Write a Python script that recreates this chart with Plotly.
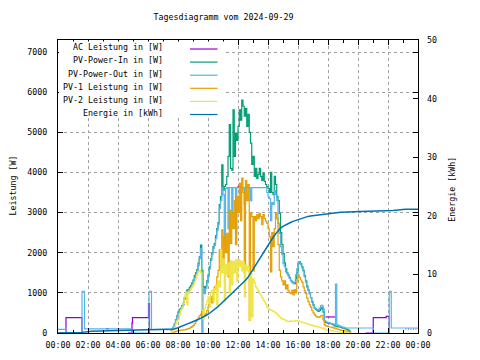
import pandas as pd
import plotly.graph_objects as go

DATE = "2024-09-29"
TITLE = "Tagesdiagramm vom 2024-09-29"
NAMES = ["AC Leistung in [W]", "PV-Power-In in [W]", "PV-Power-Out in [W]",
         "PV-1 Leistung in [W]", "PV-2 Leistung in [W]", "Energie in [kWh]"]
COLORS = ["#9400d3", "#009e73", "#56b4e9", "#e69f00", "#f0e442", "#0072b2"]

# 5-minute grid 07:30 .. 19:30 (145 samples) for the daytime series
DAY_START, DAY_END, DAY_STEP = "07:30", "19:30", "5min"

PV_IN = [
    70, 100, 150, 230, 330, 430, 520, 590, 620, 680, 740, 880,
    1010, 1070, 1080, 1140, 1180, 1250, 1320, 1430, 1500, 1580, 1740, 1900,
    2190, 1560, 1150, 1030, 1160, 1300, 1450, 1650, 1850, 2000, 2150, 2230,
    2420, 2600, 2750, 3200, 3400, 4190, 3560, 3650, 3700, 3900, 4400, 5190,
    4100, 4060, 5560, 4400, 4980, 4800, 5150, 5560, 5300, 5800, 5650, 5400,
    5600, 5150, 5450, 5000, 4730, 4200, 4400, 3900, 4100, 3850, 3950, 4100,
    3900, 3800, 3980, 3780, 3700, 3650, 3600, 3500, 4000, 3500, 3450, 3900,
    3700, 3400, 3300, 2980, 2500, 2200, 1980, 1750, 1600, 1500, 1440, 1380,
    1310, 1270, 1250, 1230, 1350, 1500, 1730, 1770, 1720, 1650, 1560, 1430,
    1300, 1150, 1070, 980, 880, 780, 700, 620, 590, 560, 540, 560,
    600, 640, 520, 300, 260, 250, 240, 230, 230, 220, 200, 180,
    170, 160, 150, 150, 140, 130, 120, 110, 100, 90, 70, 50,
    0]

PV_OUT_DAY = [
    85, 90, 140, 210, 310, 410, 500, 570, 600, 650, 700, 840,
    960, 1030, 1040, 1100, 1140, 1200, 1270, 1380, 1450, 1530, 1680, 1850,
    2100, 0, 1100, 980, 1110, 1250, 1400, 1600, 1800, 1950, 2100, 2180,
    2350, 2550, 2700, 3100, 3300, 3620, 3450, 2300, 3600, 3620, 2600, 3620,
    3620, 3000, 3620, 3620, 2500, 3620, 3620, 3620, 3620, 3620, 3620, 3200,
    3620, 3620, 3620, 3620, 3300, 3620, 3620, 3620, 3620, 3620, 3620, 3620,
    3620, 3620, 3620, 3620, 3620, 3500, 3400, 3350, 2800, 3250, 3200, 3550,
    3450, 3300, 2730, 2480, 2150, 1950, 1730, 1650, 1520, 1480, 1420, 1360,
    1300, 1270, 1230, 1270, 1450, 1600, 1770, 1740, 1700, 1620, 1540, 1400,
    1270, 1180, 1070, 980, 880, 760, 680, 630, 600, 580, 570, 620,
    680, 690, 600, 300, 280, 270, 260, 250, 240, 230, 220, 210,
    1220, 200, 190, 180, 160, 150, 140, 130, 125, 125, 125, 125,
    125]
PV_OUT_EARLY_T = ["00:00", "00:32", "01:36", "01:46", "04:54", "06:04", "06:14"]
PV_OUT_EARLY_V = [92, 0, 1040, 105, 0, 1040, 85]
PV_OUT_LATE_T = ["21:01", "22:05", "22:13", "24:00"]
PV_OUT_LATE_V = [0, 1040, 125, 125]

PV1 = [
    0, 10, 20, 30, 40, 50, 60, 60, 70, 70, 80, 80,
    90, 100, 110, 120, 140, 160, 190, 230, 280, 330, 380, 430,
    470, 520, 450, 420, 480, 560, 650, 800, 900, 750, 1000, 1150,
    1100, 1400, 1560, 2070, 1600, 2570, 1700, 2400, 2000, 2480, 1400, 3060,
    2230, 3000, 2600, 3300, 2200, 3400, 3000, 3730, 2800, 3860, 3500, 1500,
    3800, 3300, 3700, 320, 3000, 2900, 1550, 2900, 2800, 2950, 2850, 2980,
    2900, 2700, 2950, 2850, 2780, 2730, 2600, 2400, 1520, 2500, 2150, 2600,
    2980, 2850, 2200, 1560, 1400, 1300, 1200, 1300, 1100, 1200, 1050, 1000,
    980, 1060, 950, 1080, 1000, 1300, 1440, 1380, 1320, 1270, 1150, 1050,
    980, 870, 780, 700, 640, 560, 500, 450, 420, 400, 390, 400,
    430, 440, 330, 200, 180, 170, 160, 150, 150, 140, 130, 120,
    110, 100, 90, 80, 70, 65, 60, 55, 50, 40, 30, 20,
    0]

PV2 = [
    0, 30, 80, 150, 230, 300, 330, 450, 570, 640, 730, 900,
    1020, 700, 980, 1050, 1100, 1150, 1200, 1280, 1350, 1450, 1530, 1560,
    1500, 570, 350, 600, 700, 800, 900, 650, 1000, 1070, 800, 1100,
    1200, 700, 1300, 1150, 2070, 1500, 1850, 800, 1700, 1450, 1750, 1000,
    1800, 1200, 1780, 1500, 1820, 1300, 1830, 1650, 1800, 1550, 1770, 900,
    1700, 1550, 1650, 320, 1480, 400, 1350, 1250, 1150, 1100, 1050, 990,
    940, 880, 820, 770, 720, 650, 600, 580, 570, 560, 540, 520,
    500, 470, 430, 400, 370, 360, 340, 330, 310, 290, 280, 290,
    300, 290, 290, 300, 310, 300, 300, 290, 280, 270, 260, 250,
    240, 230, 220, 210, 200, 190, 180, 170, 160, 160, 150, 140,
    130, 120, 110, 100, 80, 75, 70, 65, 60, 55, 50, 45,
    40, 35, 30, 25, 20, 15, 10, 5, 0, 0, 0, 0,
    0]

# AC output: sparse readings, None = gap
AC_T = ["00:00", "00:32", "01:36", None,
        "03:12", "03:23", None,
        "04:40", "04:56", "04:58", "06:02", "06:06", None,
        "09:34", "09:42", None,
        "11:58", "12:08", None,
        "17:50", "18:30", None,
        "20:30", "21:01", "21:53", "22:05", None,
        "23:10", "23:14", None, "23:20", "23:24", None, "23:30", "23:34", None,
        "23:40", "23:44", None, "23:50", "23:54"]
AC_V = [0, 383, 0, None,
        108, 108, None,
        0, 250, 383, 730, 0, None,
        400, 400, None,
        3650, 3650, None,
        400, 400, None,
        0, 383, 415, 0, None,
        100, 100, None, 100, 100, None, 100, 100, None,
        100, 100, None, 100, 100]

ENERGY_T = ["00:00", "01:36", "02:13", "04:12", "06:02", "07:30", "07:45",
            "08:00", "08:10", "08:20", "08:30", "08:40", "08:50", "09:00",
            "09:10", "09:20", "09:30", "09:40", "09:50", "10:00", "10:10",
            "10:20", "10:30", "10:40", "10:50", "11:00", "11:10", "11:20",
            "11:30", "11:40", "11:50", "12:00", "12:10", "12:20", "12:30",
            "12:40", "12:50", "13:00", "13:10", "13:20", "13:30", "13:40",
            "13:50", "14:00", "14:10", "14:20", "14:30", "14:40", "14:50",
            "15:00", "15:10", "15:20", "15:30", "15:40", "15:50", "16:00",
            "16:10", "16:20", "16:30", "16:40", "16:50", "17:00", "17:20",
            "17:40", "18:00", "18:50", "20:10", "22:20", "23:10", "24:00"]
ENERGY_V = [0, 0.1, 0.3, 0.4, 0.6, 0.6, 0.7,
            0.9, 1.1, 1.3, 1.45, 1.6, 1.75, 1.9,
            2.1, 2.3, 2.5, 2.7, 2.9, 3.2, 3.5,
            3.8, 4.1, 4.5, 4.9, 5.3, 5.75, 6.2,
            6.6, 7.0, 7.35, 7.7, 8.1, 8.5, 9.0,
            9.5, 10.2, 10.9, 11.6, 12.3, 13.0, 13.7,
            14.4, 15.0, 15.7, 16.3, 16.9, 17.4, 17.9,
            18.2, 18.45, 18.65, 18.85, 19.05, 19.2, 19.4,
            19.55, 19.7, 19.8, 19.9, 19.95, 20.0, 20.1,
            20.3, 20.4, 20.6, 20.75, 20.9, 21.1, 21.1]


def ts(hm):
    if hm is None:
        return None
    h, m = map(int, hm.split(":"))
    return pd.Timestamp(DATE) + pd.Timedelta(hours=h, minutes=m)


DAY = list(pd.date_range(ts(DAY_START), ts(DAY_END), freq=DAY_STEP))

pv_out_x = [ts(t) for t in PV_OUT_EARLY_T] + DAY + [ts(t) for t in PV_OUT_LATE_T]
pv_out_y = PV_OUT_EARLY_V + PV_OUT_DAY + PV_OUT_LATE_V

FONT = dict(family="DejaVu Sans Mono", size=8.3, color="black")
LW = 1.2

fig = go.Figure()
fig.add_trace(go.Scatter(x=[ts(t) for t in AC_T], y=AC_V, mode="lines", name=NAMES[0],
                         line=dict(color=COLORS[0], width=LW, shape="hv"), connectgaps=False))
fig.add_trace(go.Scatter(x=DAY, y=PV_IN, mode="lines", name=NAMES[1],
                         line=dict(color=COLORS[1], width=LW, shape="hv")))
fig.add_trace(go.Scatter(x=pv_out_x, y=pv_out_y, mode="lines", name=NAMES[2],
                         line=dict(color=COLORS[2], width=LW, shape="hv")))
fig.add_trace(go.Scatter(x=DAY, y=PV1, mode="lines", name=NAMES[3],
                         line=dict(color=COLORS[3], width=LW, shape="hv")))
fig.add_trace(go.Scatter(x=DAY, y=PV2, mode="lines", name=NAMES[4],
                         line=dict(color=COLORS[4], width=LW, shape="hv")))
fig.add_trace(go.Scatter(x=[ts(t) for t in ENERGY_T], y=ENERGY_V, mode="lines", name=NAMES[5],
                         yaxis="y2", line=dict(color=COLORS[5], width=1.5, shape="linear")))

L, R, T, B = 58, 62, 40, 27
W, H = 480, 360
PW, PH = W - L - R, H - T - B


def px_x(x):
    return (x - L) / PW


def px_y(y):
    return (H - B - y) / PH


shapes = [dict(type="rect", xref="paper", yref="paper", x0=0.003, x1=px_x(224),
               y0=px_y(118), y1=0.995, fillcolor="white", line=dict(width=0), layer="above")]
annotations = []
for i, (name, col) in enumerate(zip(NAMES, COLORS)):
    ty = 47.3 + 13.1 * i
    ly = 49 + 13.1 * i
    annotations.append(dict(text=name, xref="paper", yref="paper", x=px_x(165), y=px_y(ty),
                            xanchor="right", yanchor="middle", showarrow=False, font=FONT))
    shapes.append(dict(type="line", xref="paper", yref="paper", x0=px_x(190), x1=px_x(217.5),
                       y0=px_y(ly), y1=px_y(ly), line=dict(color=col, width=LW), layer="above"))

annotations.append(dict(text="Leistung [W]", xref="paper", yref="paper", x=px_x(12.5), y=px_y(186),
                        textangle=-90, showarrow=False, font=FONT, xanchor="center", yanchor="middle"))
annotations.append(dict(text="Energie [kWh]", xref="paper", yref="paper", x=px_x(452), y=px_y(189.7),
                        textangle=-90, showarrow=False, font=FONT, xanchor="center", yanchor="middle"))

GRID = dict(showgrid=True, gridcolor="#a0a0a0", gridwidth=1, griddash="3px,3px")

fig.update_layout(
    width=W, height=H, margin=dict(l=L, r=R, t=T, b=B, autoexpand=False),
    paper_bgcolor="white", plot_bgcolor="white", font=FONT, showlegend=False,
    title=dict(text=TITLE, xref="container", yref="container", x=223.5 / W, y=1 - 17.5 / H,
               xanchor="center", yanchor="middle", font=FONT),
    xaxis=dict(type="date", range=[ts("00:00"), ts("24:00")], tick0=ts("00:00"), dtick=7200000,
               tickformat="%H:%M", ticks="inside", ticklen=5, tickcolor="black", showline=True,
               linecolor="black", linewidth=1, mirror="ticks", zeroline=False, automargin=False,
               minor=dict(dtick=3600000, ticks="inside", ticklen=3, tickcolor="black", showgrid=False),
               ticklabelstandoff=4, **GRID),
    yaxis=dict(range=[0, 7300], dtick=1000, ticks="inside", ticklen=5, tickcolor="black",
               showline=True, linecolor="black", linewidth=1, mirror="ticks", zeroline=False,
               automargin=False, ticklabelstandoff=8, **GRID),
    yaxis2=dict(range=[0, 50], dtick=10, overlaying="y", side="right", ticks="inside", ticklen=5,
                tickcolor="black", showgrid=False, zeroline=False, showline=False,
                automargin=False, ticklabelstandoff=8),
    shapes=shapes, annotations=annotations,
)

fig.write_html("out.html", config={"displayModeBar": False},
               post_script="document.body.style.margin='0';")
